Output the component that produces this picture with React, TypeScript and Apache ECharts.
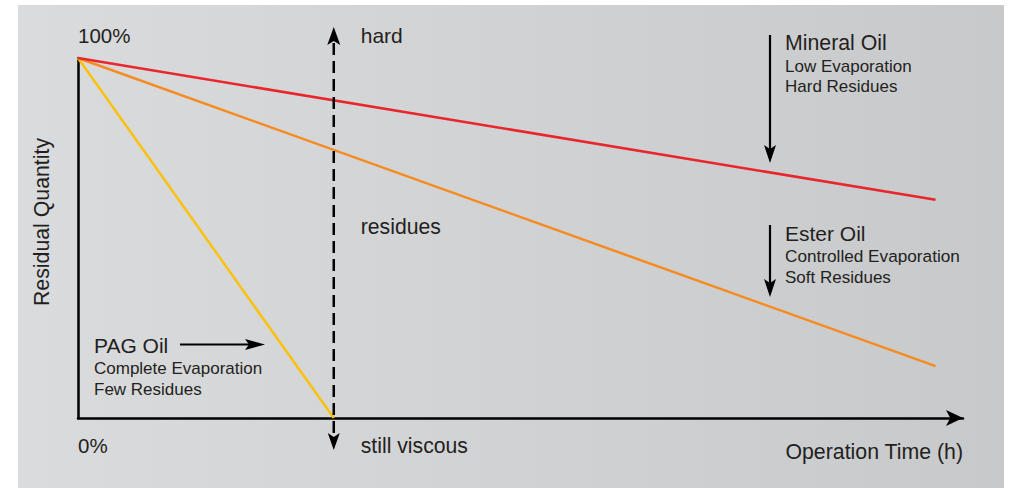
import { useEffect, useRef } from 'react';
import * as echarts from 'echarts';

// ---- data (relative units: time 0..100, residual quantity 0..100 %) ----
const seriesNames = ['Mineral Oil', 'Ester Oil', 'PAG Oil'];
const mineralData = [[0, 100], [96.9, 60.6]];
const esterData = [[0, 100], [96.9, 14.4]];
const pagData = [[0, 100], [28.9, 0]];
const viscosityX = 28.9; // dashed "hard / residues / still viscous" divider
const yTickLabels = ['0%', '100%'];
const xAxisName = 'Operation Time (h)';
const yAxisName = 'Residual Quantity';

const FONT = 'Liberation Sans';
const INK = '#231f20';

function txt(text: string, x: number, y: number, size: number, align = 'left', extra: any = {}) {
  return {
    type: 'text',
    x,
    y,
    z: 50,
    style: {
      text,
      fill: INK,
      fontFamily: FONT,
      fontSize: size,
      align,
      verticalAlign: 'middle',
    },
    ...extra,
  };
}

function downArrow(x: number, yTop: number, yTip: number) {
  return [
    { type: 'line', z: 50, shape: { x1: x, y1: yTop, x2: x, y2: yTip - 10 }, style: { stroke: '#000', lineWidth: 2.2 } },
    {
      type: 'polygon',
      z: 50,
      shape: { points: [[x, yTip], [x - 6, yTip - 18], [x, yTip - 14], [x + 6, yTip - 18]] },
      style: { fill: '#000' },
    },
  ];
}

export default function App() {
  const ref = useRef<HTMLDivElement>(null);

  useEffect(() => {
    if (!ref.current) return;
    const chart = echarts.init(ref.current, undefined, { renderer: 'svg' });
    chart.setOption({
      animation: false,
      textStyle: { fontFamily: FONT },
      grid: { left: 78, right: 46, top: 58, bottom: 70 },
      xAxis: {
        type: 'value',
        min: 0,
        max: 100,
        axisLine: {
          show: true,
          symbol: ['none', 'arrow'],
          symbolSize: [12, 17],
          lineStyle: { color: '#000', width: 2.5 },
        },
        axisTick: { show: false },
        axisLabel: { show: false },
        splitLine: { show: false },
      },
      yAxis: {
        type: 'value',
        min: 0,
        max: 100,
        axisLine: { show: true, lineStyle: { color: '#000', width: 2.5 } },
        axisTick: { show: false },
        axisLabel: { show: false },
        splitLine: { show: false },
      },
      series: [
        { name: seriesNames[0], type: 'line', data: mineralData, symbol: 'none', lineStyle: { color: '#e8262b', width: 2.5 }, z: 5 },
        { name: seriesNames[1], type: 'line', data: esterData, symbol: 'none', lineStyle: { color: '#f68b1f', width: 2.5 }, z: 4 },
        { name: seriesNames[2], type: 'line', data: pagData, symbol: 'none', lineStyle: { color: '#fbc10c', width: 2.5 }, z: 3 },
      ],
    });

    const [dx, yZero] = chart.convertToPixel({ gridIndex: 0 }, [viscosityX, 0]) as number[];
    const [x0, yHundred] = chart.convertToPixel({ gridIndex: 0 }, [0, 100]) as number[];
    const xEnd = (chart.convertToPixel({ gridIndex: 0 }, [100, 0]) as number[])[0];

    const dashTop = yHundred - 31;
    const dashBottom = yZero + 32;

    chart.setOption({
      graphic: [
        {
          type: 'rect',
          z: -10,
          silent: true,
          shape: { x: 18, y: 5, width: 986, height: 483 },
          style: {
            fill: new echarts.graphic.LinearGradient(0, 0, 1, 0, [
              { offset: 0, color: '#dadbdd' },
              { offset: 1, color: '#c8c9cb' },
            ]),
          },
        },
        // dashed divider
        {
          type: 'line',
          z: 50,
          shape: { x1: dx, y1: dashTop + 16, x2: dx, y2: dashBottom - 14 },
          style: { stroke: '#000', lineWidth: 2.5, lineDash: [12, 6] },
        },
        {
          type: 'polygon',
          z: 50,
          shape: { points: [[dx, dashTop], [dx + 6.5, dashTop + 18], [dx, dashTop + 14], [dx - 6.5, dashTop + 18]] },
          style: { fill: '#000' },
        },
        {
          type: 'polygon',
          z: 50,
          shape: { points: [[dx, dashBottom], [dx + 6, dashBottom - 17], [dx, dashBottom - 13], [dx - 6, dashBottom - 17]] },
          style: { fill: '#000' },
        },
        txt('hard', dx + 27, dashTop + 8, 21),
        txt('residues', dx + 27, 226, 21.2),
        txt('still viscous', dx + 27, dashBottom - 5, 21.2),
        // axis texts
        txt(yTickLabels[1], x0, yHundred - 23, 20.5),
        txt(yTickLabels[0], x0, yZero + 27, 20.5),
        txt(xAxisName, xEnd, yZero + 34, 21.3, 'right'),
        txt(yAxisName, 42, 222, 21.3, 'center', { rotation: Math.PI / 2 }),
        // Mineral oil annotation
        ...downArrow(770, 35, 163),
        txt('Mineral Oil', 785, 43, 21.3),
        txt('Low Evaporation', 785, 66, 17),
        txt('Hard Residues', 785, 86.5, 17),
        // Ester oil annotation
        ...downArrow(770, 225, 297),
        txt('Ester Oil', 785, 233.5, 21),
        txt('Controlled Evaporation', 785, 256, 17.2),
        txt('Soft Residues', 785, 277, 17),
        // PAG oil annotation
        { type: 'line', z: 50, shape: { x1: 180, y1: 344.5, x2: 256, y2: 344.5 }, style: { stroke: '#000', lineWidth: 2.2 } },
        {
          type: 'polygon',
          z: 50,
          shape: { points: [[265, 344.5], [245, 339], [249, 344.5], [245, 350]] },
          style: { fill: '#000' },
        },
        txt('PAG Oil', 94, 345.5, 21),
        txt('Complete Evaporation', 94, 368, 17),
        txt('Few Residues', 94, 389.5, 17),
      ],
    });

    return () => chart.dispose();
  }, []);

  return (
    <div
      ref={ref}
      style={{ position: 'fixed', left: 0, top: 0, width: 1009, height: 488, background: '#ffffff' }}
    />
  );
}
